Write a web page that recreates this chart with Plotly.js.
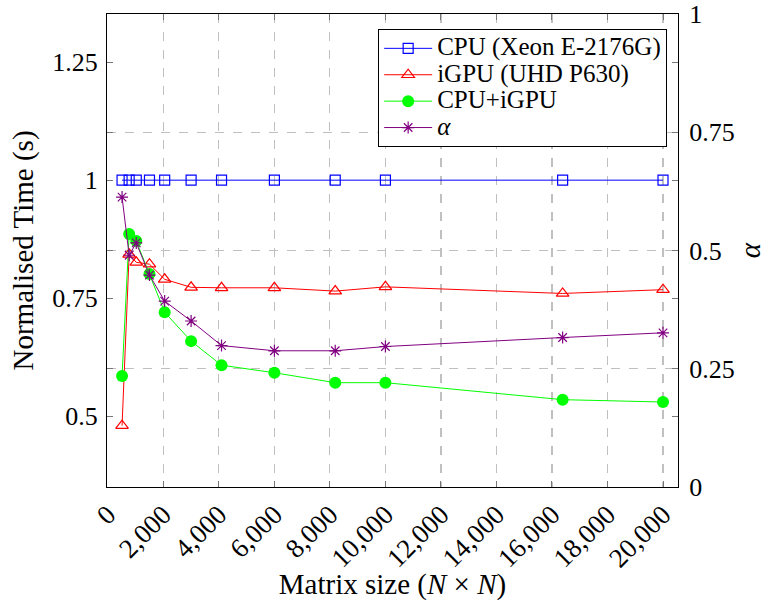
<!DOCTYPE html>
<html>
<head>
<meta charset="utf-8">
<script src="https://cdn.plot.ly/plotly-3.0.1.min.js"></script>
<style>
html,body{margin:0;padding:0;background:#fff;}
#chart{width:766px;height:601px;}
</style>
</head>
<body>
<div id="chart"></div>
<script>
// Matrix sizes (N x N)
const matrixSizes = [512, 768, 1024, 1500, 2048, 3000, 4096, 6000, 8192, 10000, 16384, 20000];
// Normalised time (left axis)
const cpuTime    = [1, 1, 1, 1, 1, 1, 1, 1, 1, 1, 1, 1];
const igpuTime   = [0.480, 0.843, 0.826, 0.822, 0.790, 0.773, 0.772, 0.772, 0.765, 0.774, 0.760, 0.768];
const hybridTime = [0.585, 0.886, 0.871, 0.801, 0.720, 0.659, 0.608, 0.592, 0.571, 0.571, 0.535, 0.530];
// alpha (right axis)
const alphaVals  = [0.613, 0.490, 0.516, 0.448, 0.393, 0.351, 0.299, 0.288, 0.288, 0.297, 0.316, 0.326];
// tick values
const xTickVals  = [0, 2000, 4000, 6000, 8000, 10000, 12000, 14000, 16000, 18000, 20000];
const yTickVals  = [0.5, 0.75, 1, 1.25];
const y2TickVals = [0, 0.25, 0.5, 0.75, 1];
const seriesNames = ['CPU (Xeon E-2176G)', 'iGPU (UHD P630)', 'CPU+iGPU', '<i>α</i>'];

const FONT = '"Liberation Serif", "Times New Roman", "DejaVu Serif", serif';
const legName = s => '<span style="font-size:25px">' + s + '</span>';

const traces = [
  {x: matrixSizes, y: cpuTime, name: legName(seriesNames[0]), mode: 'lines+markers', yaxis: 'y',
   line: {color: '#0000ff', width: 1},
   marker: {symbol: 'square-open', size: 10, color: '#0000ff', line: {width: 1.2}}},
  {x: matrixSizes, y: igpuTime, name: legName(seriesNames[1]), mode: 'lines+markers', yaxis: 'y',
   line: {color: '#ff0000', width: 1},
   marker: {symbol: 'triangle-up-open', size: 11, color: '#ff0000', line: {width: 1.2}}},
  {x: matrixSizes, y: hybridTime, name: legName(seriesNames[2]), mode: 'lines+markers', yaxis: 'y',
   line: {color: '#00ff00', width: 1},
   marker: {symbol: 'circle', size: 12, color: '#00ff00'}},
  {x: matrixSizes, y: alphaVals, name: legName(seriesNames[3]), mode: 'lines+markers', yaxis: 'y2',
   line: {color: '#800080', width: 1},
   marker: {symbol: 'asterisk-open', size: 10, color: '#800080', line: {width: 1.2, color: '#800080'}}}
];

const layout = {
  width: 766, height: 601,
  margin: {l: 107, r: 88, t: 14, b: 114, pad: 0},
  paper_bgcolor: '#ffffff', plot_bgcolor: '#ffffff',
  font: {family: FONT, size: 24, color: '#000'},
  showlegend: true,
  legend: {x: 0.981, y: 0.968, xanchor: 'right', yanchor: 'top',
    bgcolor: '#ffffff', bordercolor: '#000', borderwidth: 1,
    font: {family: FONT, size: 18, color: '#000'}, tracegroupgap: 0, itemwidth: 48},
  xaxis: {
    range: [-30, 20540], tickvals: xTickVals, tickformat: ',d', tickangle: -45,
    showgrid: true, gridcolor: '#c0c0c0', griddash: 'dash', gridwidth: 1.2,
    zeroline: false, showline: true, linecolor: '#000', linewidth: 1, mirror: 'ticks',
    ticks: 'inside', ticklen: 6, tickcolor: '#777',
    tickfont: {family: FONT, size: 27},
    title: {text: 'Matrix size (<i>N</i> × <i>N</i>)', font: {family: FONT, size: 29}, standoff: 10}
  },
  yaxis: {
    range: [0.35, 1.352], tickvals: yTickVals,
    showgrid: false, zeroline: false, showline: true, linecolor: '#000', linewidth: 1, mirror: 'ticks',
    ticks: 'inside', ticklen: 6, tickcolor: '#777', ticklabelstandoff: 3,
    tickfont: {family: FONT, size: 26},
    title: {text: 'Normalised Time (s)', font: {family: FONT, size: 29}, standoff: 10}
  },
  yaxis2: {
    range: [0, 1], tickvals: y2TickVals, overlaying: 'y', side: 'right',
    showgrid: true, gridcolor: '#c0c0c0', griddash: 'dash', gridwidth: 1.2,
    zeroline: false, showline: true, linecolor: '#000', linewidth: 1, mirror: 'ticks',
    ticks: 'inside', ticklen: 6, tickcolor: '#777', ticklabelstandoff: 5,
    tickfont: {family: FONT, size: 26},
    title: {text: '<i>α</i>', font: {family: FONT, size: 29}, standoff: 30}
  }
};

Plotly.newPlot('chart', traces, layout, {staticPlot: true, displayModeBar: false});
</script>
</body>
</html>
